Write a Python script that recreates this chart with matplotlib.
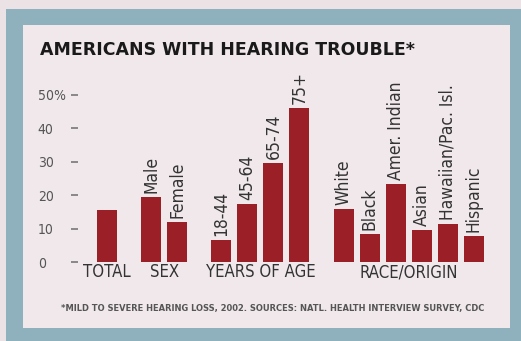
import matplotlib
matplotlib.use('Agg')
import matplotlib.pyplot as plt
from matplotlib.patches import Rectangle
import numpy as np

# Data (percent of Americans with hearing trouble)
groups = ['TOTAL', 'SEX', 'YEARS OF AGE', 'RACE/ORIGIN']
bar_labels = [
    [''],
    ['Male', 'Female'],
    ['18-44', '45-64', '65-74', '75+'],
    ['White', 'Black', 'Amer. Indian', 'Asian', 'Hawaiian/Pac. Isl.', 'Hispanic'],
]
bar_values = [
    [15.5],
    [19.5, 12.0],
    [6.5, 17.5, 29.5, 46.0],
    [15.8, 8.3, 23.3, 9.5, 11.3, 7.8],
]
y_ticks = [0, 10, 20, 30, 40, 50]
y_tick_labels = ['0', '10', '20', '30', '40', '50%']

title = 'AMERICANS WITH HEARING TROUBLE*'
footnote = '*MILD TO SEVERE HEARING LOSS, 2002. SOURCES: NATL. HEALTH INTERVIEW SURVEY, CDC'

BAR_COLOR = '#9a1f26'
TEXT_COLOR = '#333333'
FONT = ['DejaVu Sans']

W, H = 521, 341
fig = plt.figure(figsize=(W / 100, H / 100), dpi=100)
fig.patch.set_facecolor('#ebe2e6')

# frame and panel (pixel coords -> figure fraction)
def px_rect(x0, y0, x1, y1, color):
    fig.patches.append(Rectangle((x0 / W, 1 - y1 / H), (x1 - x0) / W, (y1 - y0) / H,
                                 transform=fig.transFigure, facecolor=color,
                                 edgecolor='none', zorder=-5))

px_rect(6, 9, 521, 341, '#8fb0bd')
px_rect(23, 25, 510, 328, '#f0e8eb')

# bar positions: step 1 within group, extra gap between groups
gap = 1.7
positions = []
x = 0.0
for gi, vals in enumerate(bar_values):
    pos = []
    for vi in range(len(vals)):
        pos.append(x)
        x += 1
    x += gap - 1
    positions.append(pos)

# axes: x px = 107 + 26 * x, y=0 at px 262, y=50 at px 95
ax_left_px, ax_right_px = 78, 500
ax = fig.add_axes([ax_left_px / W, 1 - 262 / H, (ax_right_px - ax_left_px) / W, (262 - 95) / H])
ax.set_zorder(2)
ax.set_facecolor('none')
ax.set_xlim((ax_left_px - 107) / 26, (ax_right_px - 107) / 26)
ax.set_ylim(0, 50)
for s in ax.spines.values():
    s.set_visible(False)
ax.set_xticks([])
ax.set_yticks(y_ticks, y_tick_labels)
ax.tick_params(axis='y', length=5, width=1.2, color='#777777', pad=24,
               labelcolor='#555555', labelsize=10)
for lab in ax.get_yticklabels():
    lab.set_horizontalalignment('left')
    lab.set_family(FONT)
    lab.set_stretch('condensed')

for pos, vals, labs, grp in zip(positions, bar_values, bar_labels, groups):
    ax.bar(pos, vals, width=0.77, color=BAR_COLOR, zorder=2)
    for p, v, l in zip(pos, vals, labs):
        if l:
            ax.text(p, v + 1.2, l, rotation=90, ha='center', va='bottom',
                    fontsize=12.5, color=TEXT_COLOR, family=FONT,
                    stretch='condensed', clip_on=False)
    ax.text(np.mean(pos), -0.06, grp, transform=ax.get_xaxis_transform(),
            ha='center', va='center', fontsize=12, color=TEXT_COLOR,
            family=FONT, stretch='condensed')

fig.text(40 / W, 1 - 50 / H, title, ha='left', va='center', fontsize=12.5,
         fontweight='heavy', color='#1a1a1a', family=FONT)
fig.text(273 / W, 1 - 308 / H, footnote, ha='center', va='center', fontsize=6.7,
         fontweight='bold', color='#555555', family=FONT, stretch='condensed')

fig.savefig('out.png', dpi=100, facecolor=fig.get_facecolor())
